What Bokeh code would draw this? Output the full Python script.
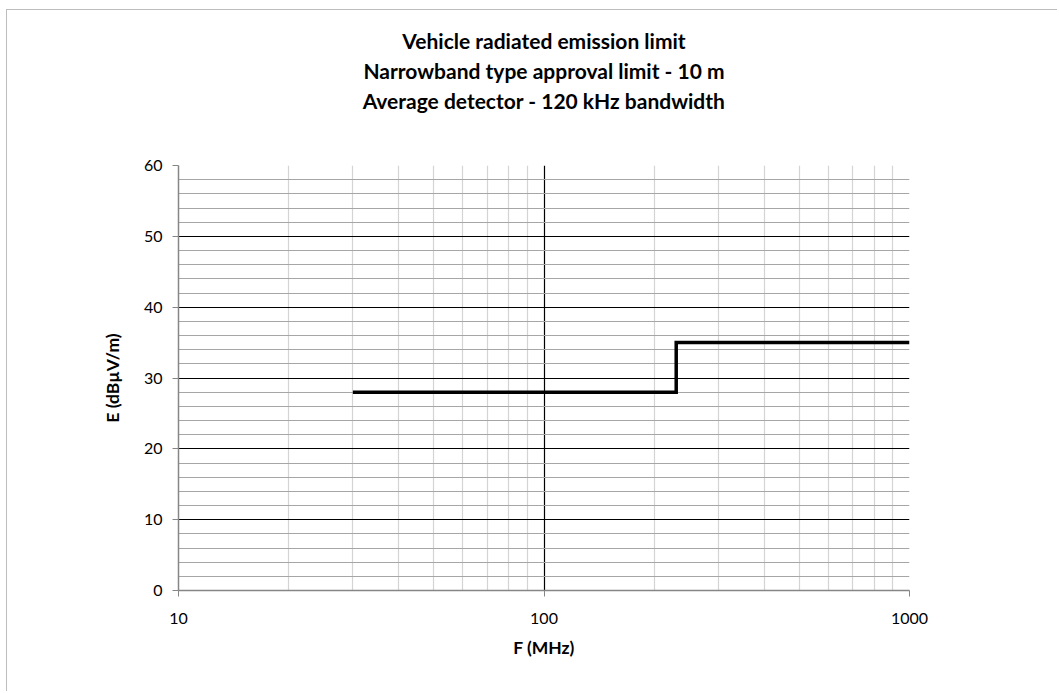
from bokeh.plotting import figure
from bokeh.models import FixedTicker, Title, NumeralTickFormatter
from bokeh.embed import file_html
from bokeh.resources import INLINE

# Data
freq_mhz = [30, 230, 230, 1000]
limit_dbuv = [28, 28, 35, 35]
x_major_ticks = [10, 100, 1000]
x_minor_ticks = [20, 30, 40, 50, 60, 70, 80, 90, 200, 300, 400, 500, 600, 700, 800, 900]
y_major_ticks = [0, 10, 20, 30, 40, 50, 60]
y_minor_ticks = [v for v in range(0, 61, 2) if v % 10 != 0]
title_lines = ["Vehicle radiated emission limit",
               "Narrowband type approval limit - 10 m",
               "Average detector - 120 kHz bandwidth"]

FONT = "Lato"

p = figure(x_axis_type="log", x_range=(10, 1000), y_range=(0, 60),
           frame_width=731, frame_height=425,
           min_border_left=171, min_border_right=148,
           min_border_top=155, min_border_bottom=101,
           output_backend="svg", toolbar_location=None,
           background_fill_color="white", border_fill_color="white")
p.outline_line_color = None
p.styles = {"margin-left": "6px", "margin-top": "9px",
            "border-left": "1px solid #bdbdbd", "border-top": "1px solid #bdbdbd"}

# spacer title closest to the frame, then the three lines (bottom-up)
p.add_layout(Title(text=" ", text_font=FONT, text_font_size="38px", standoff=3), "above")
for t in reversed(title_lines):
    p.add_layout(Title(text=t, align="center", text_font=FONT, text_font_size="21px",
                       text_font_style="bold", text_color="black", standoff=3), "above")

# axes
p.xaxis.ticker = FixedTicker(ticks=x_major_ticks)
p.xaxis.formatter = NumeralTickFormatter(format="0")
p.yaxis.ticker = FixedTicker(ticks=y_major_ticks)
for ax in (p.xaxis[0], p.yaxis[0]):
    ax.axis_line_color = "#868686"
    ax.axis_line_width = 1.5
    ax.major_tick_line_color = "#868686"
    ax.major_tick_out = 6
    ax.major_tick_in = 0
    ax.minor_tick_line_color = None
    ax.major_label_text_font = FONT
    ax.major_label_text_font_size = "16px"
    ax.major_label_text_color = "black"
    ax.axis_label_text_font = FONT
    ax.axis_label_text_font_size = "17.5px"
    ax.axis_label_text_font_style = "bold"
    ax.axis_label_text_color = "black"
p.xaxis.axis_label = "F (MHz)"
p.yaxis.axis_label = "E (dBµV/m)"
p.xaxis.major_label_standoff = 16
p.xaxis.axis_label_standoff = 10
p.yaxis.major_label_standoff = 10
p.yaxis.axis_label_standoff = 18

# grids
p.xgrid.ticker = FixedTicker(ticks=[100, 1000], minor_ticks=x_minor_ticks)
p.xgrid.grid_line_color = "black"
p.xgrid.grid_line_width = 1.2
p.xgrid.minor_grid_line_color = "#d4d4d4"
p.xgrid.minor_grid_line_width = 1.2
p.ygrid.ticker = FixedTicker(ticks=[10, 20, 30, 40, 50, 60], minor_ticks=y_minor_ticks)
p.ygrid.grid_line_color = "black"
p.ygrid.grid_line_width = 1.2
p.ygrid.minor_grid_line_color = "#a6a6a6"
p.ygrid.minor_grid_line_width = 1.2
p.xgrid.level = "underlay"
p.ygrid.level = "underlay"

p.line(freq_mhz, limit_dbuv, line_color="black", line_width=3.5, line_join="miter")

open("out.html", "w").write(file_html(p, INLINE))
